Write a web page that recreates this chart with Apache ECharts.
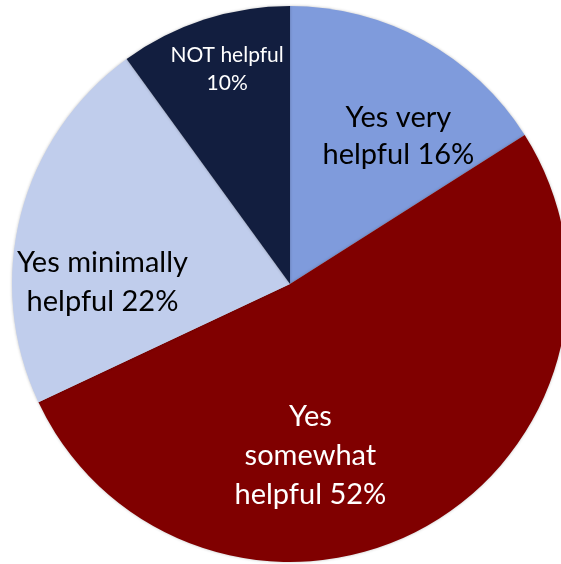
<!DOCTYPE html>
<html>
<head>
<meta charset="utf-8">
<script src="https://cdn.jsdelivr.net/npm/echarts@6/dist/echarts.min.js"></script>
<style>html,body{margin:0;padding:0;background:#fff;}#c{width:561px;height:564px;}</style>
</head>
<body>
<div id="c"></div>
<script>
const categories = ["Yes very\nhelpful", "Yes\nsomewhat\nhelpful", "Yes minimally\nhelpful", "NOT helpful\n"];
const values = [16, 52, 22, 10];
const colors = ["#7F9BDC", "#800000", "#C0CDEC", "#121E3F"];
const textColors = ["#000000", "#ffffff", "#000000", "#ffffff"];
const fontSizes = [29, 29, 29, 21];
const lineHeights = [37, 39, 39, 28];
const offsets = [[40, -23], [-48, 47], [-50, 33], [-19, -80]];

const chart = echarts.init(document.getElementById('c'), null, {renderer: 'canvas'});
chart.setOption({
  animation: false,
  series: [{
    type: 'pie',
    center: [290, 284],
    radius: [0, 278],
    startAngle: 90,
    clockwise: true,
    data: categories.map((n, i) => ({
      name: n,
      value: values[i],
      itemStyle: {color: colors[i]},
      label: {color: textColors[i], fontSize: fontSizes[i], lineHeight: lineHeights[i]}
    })),
    itemStyle: {borderWidth: 0, shadowBlur: 3, shadowColor: 'rgba(0,0,0,0.25)'},
    label: {
      show: true,
      position: 'inside',
      fontFamily: 'Lato',
      align: 'center',
      formatter: p => p.name.endsWith('\n') ? p.name + p.value + '%' : p.name + ' ' + p.value + '%'
    },
    labelLine: {show: false},
    labelLayout: p => ({dx: offsets[p.dataIndex][0], dy: offsets[p.dataIndex][1]})
  }]
});
</script>
</body>
</html>
